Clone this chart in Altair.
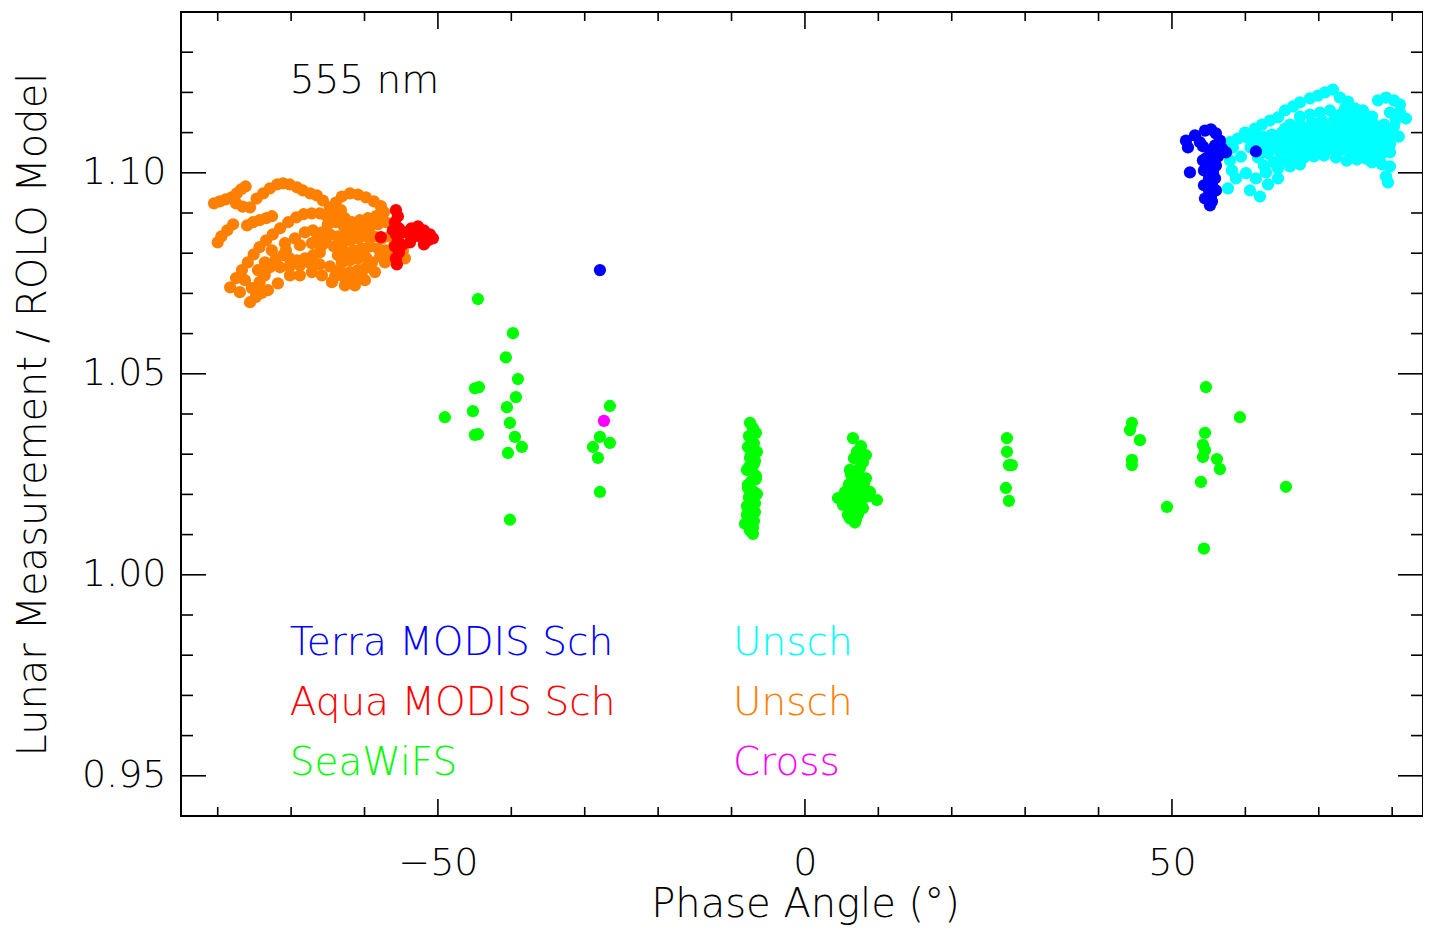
import altair as alt
import pandas as pd

# ---------------- data (phase angle in degrees, ratio measurement / ROLO) -------------
aqua_unsch_x = [-80.5, -79.7, -78.9, -78.1, -77.4, -76.8, -76.2, -77.5, -76.6, -75.6,
                -74.7, -73.8, -72.9, -71.9, -71.1, -70.2, -69.2, -68.4, -67.4, -66.5,
                -80.0, -79.5, -78.7, -77.9,
                -76.0, -75.2, -74.3, -73.4, -72.6,
                -78.3, -77.5, -76.7, -75.9, -75.1, -74.3, -73.4, -72.5, -71.5, -70.4, -69.3, -68.3, -67.2, -66.1, -65.1,
                -75.6, -74.8, -74.0,
                -74.3, -73.6, -72.9, -72.1, -71.1, -70.2, -69.2, -68.1, -67.0, -66.1,
                -71.5, -70.2, -68.8, -67.4, -66.1, -64.7, -63.4, -62.0, -60.9, -59.9, -64.0, -62.7, -61.3, -60.4,
                -65.67, -64.71, -63.90, -63.08, -61.99, -60.90, -59.81, -58.72, -57.77, -57.36,
                -65.26, -64.17, -63.22, -62.67, -64.99, -63.90, -62.81, -61.72, -60.63, -59.54, -58.45,
                -65.80, -64.71, -63.62, -62.53, -61.44, -60.35, -59.26, -58.17, -57.08, -56.13,
                -65.26, -64.17, -63.08, -61.99, -60.90, -59.81, -58.72, -57.63, -56.54, -55.59,
                -63.62, -62.53, -61.44, -60.35, -59.26, -58.17, -57.08, -55.99,
                -63.08, -61.99, -60.90, -59.81, -58.99, -57.87,
                -67.03, -66.35, -54.50, -54.77,
                -73.57, -72.62, -70.84, -69.48, -68.12, -68.80, -67.17, -65.80, -70.16, -68.80, -67.17, -65.80, -64.44,
                -62.67, -61.31, -59.95, -58.58, -57.22, -56.27, -76.29, -76.98, -75.34, -73.16, -71.80, -74.52, -70.71]
aqua_unsch_y = [1.0924, 1.0929, 1.0934, 1.0939, 1.0949, 1.0959, 1.0966, 1.0924, 1.0916, 1.0914,
                1.0936, 1.0949, 1.0961, 1.0971, 1.0974, 1.0971, 1.0964, 1.0956, 1.0949, 1.0944,
                1.0827, 1.0842, 1.0857, 1.0872,
                1.0869, 1.0877, 1.0882, 1.0887, 1.0892,
                1.0715, 1.0738, 1.0758, 1.0777, 1.0797, 1.0815, 1.0832, 1.0847, 1.0862, 1.0877, 1.0889, 1.0897, 1.0899, 1.0899, 1.0894,
                1.0678, 1.0691, 1.0701,
                1.0728, 1.0745, 1.0765, 1.0785, 1.0795, 1.0787, 1.0782, 1.0787, 1.0795, 1.0802,
                1.0765, 1.0767, 1.0770, 1.0775, 1.0772, 1.0767, 1.0758, 1.0753, 1.0758, 1.0763, 1.0743, 1.0738, 1.0740, 1.0745,
                1.0931, 1.0914, 1.0926, 1.0941, 1.0949, 1.0946, 1.0939, 1.0929, 1.0917, 1.0902,
                1.0894, 1.0899, 1.0907, 1.0887, 1.0872, 1.0877, 1.0867, 1.0877, 1.0882, 1.0887, 1.0892,
                1.0852, 1.0847, 1.0842, 1.0847, 1.0857, 1.0862, 1.0867, 1.0872, 1.0877, 1.0872,
                1.0827, 1.0817, 1.0822, 1.0832, 1.0837, 1.0842, 1.0842, 1.0837, 1.0842, 1.0852,
                1.0795, 1.0802, 1.0807, 1.0812, 1.0817, 1.0812, 1.0807, 1.0817,
                1.0777, 1.0782, 1.0787, 1.0790, 1.0777, 1.0792,
                1.0857, 1.0842, 1.0787, 1.0807,
                1.0777, 1.0807, 1.0825, 1.0837, 1.0852, 1.0820, 1.0825, 1.0820, 1.0745, 1.0745, 1.0753, 1.0745, 1.0728,
                1.0720, 1.0720, 1.0733, 1.0753, 1.0777, 1.0792, 1.0733, 1.0703, 1.0713, 1.0708, 1.0725, 1.0758, 1.0807]

aqua_sch_x = [-55.72, -55.45, -55.86, -55.31, -55.72, -55.45, -55.86, -55.31, -55.72, -55.59, -56.13, -54.90,
              -54.43, -53.61, -52.72, -51.91, -51.09, -50.68, -51.36, -52.45, -53.27, -53.81, -51.91, -57.77]
aqua_sch_y = [1.0907, 1.0892, 1.0877, 1.0862, 1.0847, 1.0832, 1.0817, 1.0802, 1.0787, 1.0772, 1.0857, 1.0820,
              1.0852, 1.0862, 1.0867, 1.0857, 1.0847, 1.0837, 1.0832, 1.0842, 1.0842, 1.0827, 1.0822, 1.0840]

terra_unsch_x = [70.84, 71.93,
                 67.44, 68.80, 69.89, 72.89, 73.98,
                 65.40, 66.49, 73.57, 74.93, 76.02, 78.07, 79.16, 80.25, 81.06,
                 62.26, 63.35, 64.44, 67.44, 68.80, 70.16, 71.53, 72.89, 74.25, 75.61, 77.25, 79.70, 81.06, 81.88,
                 59.95, 61.31, 66.08, 67.44, 69.07, 70.44, 72.07, 73.43, 74.80, 76.16, 77.52, 78.88, 80.25,
                 57.90, 58.99, 62.26, 63.62, 64.99, 66.35, 67.71, 69.07, 70.44, 71.80, 73.16, 74.52, 75.89, 77.25, 78.61, 79.97,
                 57.63, 62.26, 63.62, 64.99, 66.35, 67.71, 69.07, 70.44, 71.80, 73.16, 74.52, 75.89, 77.25, 78.61, 79.70,
                 57.90, 58.17, 61.72, 63.08, 64.71, 66.08, 67.44, 68.80, 70.16, 71.53, 72.89, 74.25, 75.61, 76.98, 78.34, 79.70,
                 58.72, 60.08, 62.53, 63.90, 65.26, 66.62, 67.98, 69.35, 70.71, 72.34, 77.25, 78.61, 79.70,
                 57.63, 61.44, 62.81, 64.44, 66.08, 67.44, 79.16, 79.43,
                 60.63, 61.99, 63.08, 64.44,
                 58.3, 59.4, 60.7, 61.0, 73.8, 75.2, 76.5, 74.0, 75.5, 76.8, 78.0, 80.5, 80.9, 69.6, 71.2, 72.6,
                 65.40, 66.76, 68.12, 69.75, 71.12, 72.48, 73.84, 75.20, 76.57, 77.93, 79.29,
                 62.94, 64.31, 65.67, 67.03, 68.39, 69.75, 71.12, 72.48, 73.84, 75.20, 76.57, 77.93, 79.16,
                 60.22, 61.58, 62.94, 64.31, 65.67, 67.03, 68.39, 69.75, 71.12, 72.48, 73.84, 75.20, 76.57, 77.93, 79.29]
terra_unsch_y = [1.1200, 1.1207,
                 1.1175, 1.1185, 1.1192, 1.1187, 1.1177,
                 1.1155, 1.1165, 1.1160, 1.1160, 1.1155, 1.1180, 1.1187, 1.1180, 1.1170,
                 1.1120, 1.1130, 1.1138, 1.1140, 1.1145, 1.1150, 1.1155, 1.1145, 1.1140, 1.1138, 1.1140, 1.1150, 1.1150, 1.1135,
                 1.1100, 1.1110, 1.1120, 1.1120, 1.1125, 1.1130, 1.1130, 1.1125, 1.1120, 1.1120, 1.1120, 1.1120, 1.1115,
                 1.1076, 1.1085, 1.1090, 1.1095, 1.1100, 1.1100, 1.1103, 1.1105, 1.1105, 1.1108, 1.1105, 1.1100, 1.1100, 1.1098, 1.1095, 1.1095,
                 1.1056, 1.1068, 1.1071, 1.1076, 1.1080, 1.1080, 1.1083, 1.1083, 1.1083, 1.1080, 1.1078, 1.1078, 1.1076, 1.1076, 1.1071,
                 1.1031, 1.1006, 1.1038, 1.1048, 1.1051, 1.1056, 1.1058, 1.1061, 1.1058, 1.1061, 1.1056, 1.1053, 1.1051, 1.1046, 1.1041, 1.1051,
                 1.0986, 1.0999, 1.1018, 1.1026, 1.1031, 1.1036, 1.1038, 1.1041, 1.1043, 1.1038, 1.1026, 1.1021, 1.1016,
                 1.0961, 1.0986, 1.1001, 1.1011, 1.1016, 1.1021, 1.0991, 1.0976,
                 1.0956, 1.0941, 1.0971, 1.0986,
                 1.1063, 1.1040, 1.1063, 1.1083, 1.1030, 1.1033, 1.1035, 1.1110, 1.1112, 1.1108, 1.1106, 1.1133, 1.1090, 1.1092, 1.1094, 1.1068,
                 1.1110, 1.1110, 1.1110, 1.1110, 1.1110, 1.1110, 1.1110, 1.1110, 1.1110, 1.1110, 1.1110,
                 1.1063, 1.1063, 1.1063, 1.1063, 1.1063, 1.1063, 1.1063, 1.1063, 1.1063, 1.1063, 1.1063, 1.1063, 1.1063,
                 1.1088, 1.1088, 1.1088, 1.1088, 1.1088, 1.1088, 1.1088, 1.1088, 1.1088, 1.1088, 1.1088, 1.1088, 1.1088, 1.1088, 1.1088]

terra_sch_x = [51.91, 52.18, 53.13, 53.81, 54.50, 55.31, 55.99, 56.54, 56.81, 57.36, 55.86, 55.18, 54.63,
               55.45, 54.90, 55.59, 55.04, 55.45, 55.04, 55.31, 55.45, 52.45, 61.44, 54.22, 56.27,
               54.36, 55.99, 54.36, 55.99, 54.50, 55.86, 54.22, 55.18, -27.93]
terra_sch_y = [1.1080, 1.1063, 1.1093, 1.1076, 1.1105, 1.1108, 1.1098, 1.1080, 1.1061, 1.1051, 1.1068, 1.1056, 1.1036,
               1.1031, 1.1016, 1.1001, 1.0986, 1.0971, 1.0956, 1.0941, 1.0929, 1.1001, 1.1053, 1.1066, 1.1041,
               1.1006, 1.1018, 1.0969, 1.0956, 1.0936, 1.0986, 1.1031, 1.0919, 1.0758]

seawifs_x = [-44.55, -39.78, -40.74, -39.10, -44.96, -44.41, -39.37, -45.23, -40.60, -49.05, -40.19, -44.96, -44.55,
             -39.51, -38.56, -40.46, -40.19,
             -26.57, -27.93, -28.88, -26.57, -28.20, -27.93,
             -7.49, -6.68, -7.22, -7.77, -6.54, -7.49, -6.95, -7.90, -6.68, -7.36, -7.77, -6.54, -7.22, -7.90, -6.81,
             -7.49, -8.17, -7.08, -7.08,
             -7.08, -7.63, -6.95, -7.36, -6.81, -7.63, -7.08, -6.68, -7.77, -7.08, -7.63, -6.81, -7.36, -7.90, -6.95, -7.49,
             6.54, 7.08, 8.31, 7.49, 6.13, 6.81, 8.04, 5.45, 8.86, 9.81, 6.40, 7.49, 5.18, 6.81, 5.86, 6.95, 7.90, 4.50,
             7.63, 6.68, 7.90, 6.27, 7.22, 8.31, 6.00, 7.08, 7.90, 5.86, 8.58, 6.54, 7.63, 6.27, 7.22, 6.13, 6.81,
             27.52, 27.52, 27.79, 28.20, 27.38, 27.79,
             44.55, 44.28, 45.64, 44.55, 44.55,
             54.63, 59.26, 54.50, 54.22, 54.50, 54.22, 56.13, 56.54, 53.95, 49.32, 65.53, 54.36]
seawifs_y = [1.0686, 1.0601, 1.0541, 1.0487, 1.0464, 1.0467, 1.0442, 1.0407, 1.0417, 1.0392, 1.0378, 1.0348, 1.0350,
             1.0343, 1.0318, 1.0303, 1.0137,
             1.0420, 1.0343, 1.0318, 1.0328, 1.0291, 1.0206,
             1.0378, 1.0353, 1.0335, 1.0318, 1.0306, 1.0291, 1.0276, 1.0261, 1.0246, 1.0231, 1.0216, 1.0201, 1.0186, 1.0171, 1.0156,
             1.0142, 1.0127, 1.0117, 1.0102,
             1.0365, 1.0345, 1.0327, 1.0298, 1.0283, 1.0268, 1.0253, 1.0238, 1.0224, 1.0208, 1.0193, 1.0178, 1.0163, 1.0149, 1.0134, 1.0110,
             1.0340, 1.0306, 1.0298, 1.0266, 1.0261, 1.0236, 1.0226, 1.0206, 1.0206, 1.0186, 1.0194, 1.0186, 1.0174, 1.0161, 1.0149, 1.0137, 1.0166, 1.0191,
             1.0320, 1.0290, 1.0280, 1.0250, 1.0250, 1.0240, 1.0225, 1.0215, 1.0200, 1.0190, 1.0195, 1.0175, 1.0180, 1.0160, 1.0150, 1.0140, 1.0130,
             1.0340, 1.0306, 1.0273, 1.0273, 1.0216, 1.0184,
             1.0378, 1.0360, 1.0335, 1.0286, 1.0273,
             1.0467, 1.0392, 1.0353, 1.0323, 1.0310, 1.0293, 1.0288, 1.0263, 1.0231, 1.0169, 1.0219, 1.0065]

cross_x = [-27.38]
cross_y = [1.0383]

series_names = ["Aqua Unsch", "Aqua Sch", "Terra Unsch", "Terra Sch", "SeaWiFS", "Cross"]
series_colors = ["#FF8000", "#FF0000", "#00FFFF", "#0000FF", "#00FF00", "#FF00FF"]

# legend-like labels placed inside the plot (data coordinates)
label_text = ["555 nm", "Terra MODIS Sch", "Aqua MODIS Sch", "SeaWiFS", "Unsch", "Unsch", "Cross"]
label_x = [-70.2, -70.2, -70.2, -70.2, -9.8, -9.8, -9.8]
label_y = [1.1229, 0.9831, 0.9682, 0.9533, 0.9831, 0.9682, 0.9533]
label_color = ["#000000", "#0000FF", "#FF0000", "#00FF00", "#00FFFF", "#FF8000", "#FF00FF"]

x_major = [-50, 0, 50]
x_minor = [-80, -70, -60, -40, -30, -20, -10, 10, 20, 30, 40, 60, 70, 80]
y_major = [0.95, 1.00, 1.05, 1.10]
y_minor = [0.96, 0.97, 0.98, 0.99, 1.01, 1.02, 1.03, 1.04, 1.06, 1.07, 1.08, 1.09, 1.11, 1.12, 1.13]

# ---------------- build tables ----------------
groups = [(aqua_unsch_x, aqua_unsch_y), (aqua_sch_x, aqua_sch_y), (terra_unsch_x, terra_unsch_y),
          (terra_sch_x, terra_sch_y), (seawifs_x, seawifs_y), (cross_x, cross_y)]
rows = []
order = 0
for name, (gx, gy) in zip(series_names, groups):
    for a, b in zip(gx, gy):
        rows.append({"x": a, "y": b, "series": name, "ord": order})
        order += 1
pts = pd.DataFrame(rows)

labels = pd.DataFrame({"t": label_text, "x": label_x, "y": label_y, "c": label_color})

W, H = 1242, 804
FONT = "DejaVu Sans"
FW = 200

xscale = alt.Scale(domain=[-85, 84.2], nice=False, zero=False)
yscale = alt.Scale(domain=[0.94, 1.14], nice=False, zero=False)
xaxis = alt.Axis(values=x_major, ticks=False, domain=False, grid=False, labelFontSize=38,
                 labelFont=FONT, labelFontWeight=FW, labelColor="black", labelPadding=28, labelFlush=False,
                 title="Phase Angle (°)", titleFont=FONT, titleFontSize=40, titleFontWeight=FW,
                 titleColor="black", titleX=624, titleY=88, titleBaseline="middle", titleAlign="center")
yaxis = alt.Axis(values=y_major, format=".2f", ticks=False, domain=False, grid=False, labelFontSize=38,
                 labelFont=FONT, labelFontWeight=FW, labelColor="black", labelPadding=15, labelFlush=False,
                 title="Lunar Measurement / ROLO Model", titleFont=FONT, titleFontSize=40,
                 titleFontWeight=FW, titleColor="black", titleAngle=-90, titleX=-148, titleY=H / 2,
                 titleBaseline="middle", titleAlign="center")

points = alt.Chart(pts).mark_circle(size=150, opacity=1).encode(
    x=alt.X("x:Q", scale=xscale, axis=xaxis),
    y=alt.Y("y:Q", scale=yscale, axis=yaxis),
    color=alt.Color("series:N", scale=alt.Scale(domain=series_names, range=series_colors), legend=None),
    order=alt.Order("ord:Q"),
)

text = alt.Chart(labels).mark_text(align="left", baseline="middle", font=FONT, fontSize=39,
                                   fontWeight=FW).encode(
    x=alt.X("x:Q", scale=xscale, axis=xaxis),
    y=alt.Y("y:Q", scale=yscale, axis=yaxis),
    text="t:N",
    color=alt.Color("c:N", scale=None),
)


def xticks(vals, length):
    d = pd.DataFrame({"x": vals})
    bottom = alt.Chart(d).mark_rule(color="black", strokeWidth=1.6).encode(
        x=alt.X("x:Q", scale=xscale, axis=xaxis), y=alt.value(H), y2=alt.value(H - length))
    top = alt.Chart(d).mark_rule(color="black", strokeWidth=1.6).encode(
        x=alt.X("x:Q", scale=xscale, axis=xaxis), y=alt.value(0), y2=alt.value(length))
    return [bottom, top]


def yticks(vals, length):
    d = pd.DataFrame({"y": vals})
    left = alt.Chart(d).mark_rule(color="black", strokeWidth=1.6).encode(
        y=alt.Y("y:Q", scale=yscale, axis=yaxis), x=alt.value(0), x2=alt.value(length))
    right = alt.Chart(d).mark_rule(color="black", strokeWidth=1.6).encode(
        y=alt.Y("y:Q", scale=yscale, axis=yaxis), x=alt.value(W), x2=alt.value(W - length))
    return [left, right]


layers = xticks(x_major, 17) + xticks(x_minor, 9) + yticks(y_major, 25) + yticks(y_minor, 12) + [points, text]

chart = alt.layer(*layers).properties(
    width=W, height=H,
    autosize=alt.AutoSizeParams(type="none"),
    padding={"left": 173, "top": 4, "right": 0, "bottom": 115},
    background="white",
).configure_view(stroke="black", strokeWidth=2)

chart.save("out.html", embed_options={"renderer": "svg", "actions": False})
